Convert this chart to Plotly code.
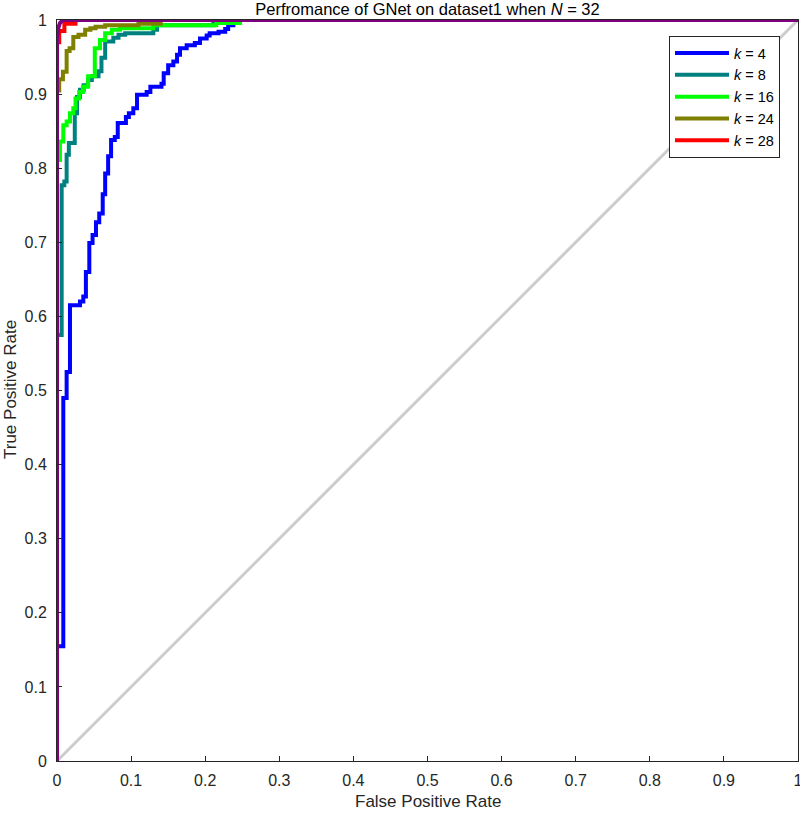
import plotly.graph_objects as go

# ROC staircase vertices (FPR, TPR); drawn with 'hv' steps
k4_fpr = [0, 0, 0.0085, 0.013, 0.0175, 0.031, 0.0355, 0.039, 0.0436, 0.048, 0.0526, 0.057, 0.0617,
          0.065, 0.069, 0.073, 0.078, 0.082, 0.093, 0.097, 0.103, 0.108, 0.121, 0.126, 0.141, 0.144,
          0.150, 0.157, 0.162, 0.166, 0.175, 0.186, 0.193, 0.202, 0.206, 0.218, 0.227, 0.231, 0.238,
          0.247, 1.0]
k4_tpr = [0, 0.155, 0.49, 0.525, 0.615, 0.62, 0.627, 0.66, 0.699, 0.71, 0.727, 0.739, 0.765,
          0.793, 0.816, 0.838, 0.842, 0.861, 0.869, 0.874, 0.881, 0.899, 0.903, 0.910, 0.914, 0.928,
          0.939, 0.944, 0.953, 0.962, 0.966, 0.969, 0.975, 0.979, 0.982, 0.984, 0.988, 0.993, 0.996,
          1.0, 1.0]

k8_fpr = [0, 0, 0.0063, 0.0099, 0.013, 0.016, 0.024, 0.027, 0.031, 0.036, 0.042, 0.047, 0.056,
          0.060, 0.065, 0.076, 0.083, 0.092, 0.130, 0.135, 0.211, 1.0]
k8_tpr = [0, 0.575, 0.777, 0.782, 0.818, 0.834, 0.874, 0.896, 0.906, 0.912, 0.919, 0.924, 0.931,
          0.949, 0.971, 0.976, 0.980, 0.982, 0.987, 0.993, 1.0, 1.0]

k16_fpr = [0, 0, 0.004, 0.0085, 0.013, 0.0175, 0.022, 0.025, 0.030, 0.035, 0.042, 0.051, 0.058,
           0.065, 0.074, 0.085, 0.130, 0.215, 0.247, 1.0]
k16_tpr = [0, 0.811, 0.836, 0.858, 0.863, 0.874, 0.881, 0.894, 0.903, 0.910, 0.924, 0.962, 0.973,
           0.982, 0.987, 0.989, 0.993, 0.996, 1.0, 1.0]

k24_fpr = [0, 0, 0.003, 0.008, 0.013, 0.017, 0.022, 0.029, 0.038, 0.045, 0.052, 0.065, 0.11, 0.14, 1.0]
k24_tpr = [0, 0.905, 0.92, 0.93, 0.958, 0.962, 0.977, 0.980, 0.987, 0.989, 0.991, 0.993, 0.995, 1.0, 1.0]

k28_fpr = [0, 0, 0.003, 0.010, 0.025, 1.0]
k28_tpr = [0, 0.97, 0.985, 0.995, 1.0, 1.0]

k32_fpr = [0, 0, 0.002, 0.004, 0.008, 1.0]
k32_tpr = [0, 0.975, 0.99, 0.996, 1.0, 1.0]

chance = [0, 1]
ticks = [0, 0.1, 0.2, 0.3, 0.4, 0.5, 0.6, 0.7, 0.8, 0.9, 1]
tick_text = ["0", "0.1", "0.2", "0.3", "0.4", "0.5", "0.6", "0.7", "0.8", "0.9", "1"]

FONT = "Arial, Liberation Sans, Helvetica, sans-serif"
AX = "#262626"

W, H = 800, 815
L, R, T, B = 57, 2, 20, 54
PW, PH = W - L - R, H - T - B

fig = go.Figure()
fig.add_trace(go.Scatter(x=chance, y=chance, mode="lines", line=dict(color="#CCCCCC", width=3),
                         showlegend=False, hoverinfo="skip"))

series = [
    (k4_fpr, k4_tpr, "#0000FF", "<i>k</i> = 4"),
    (k8_fpr, k8_tpr, "#008080", "<i>k</i> = 8"),
    (k16_fpr, k16_tpr, "#00FF00", "<i>k</i> = 16"),
    (k24_fpr, k24_tpr, "#808000", "<i>k</i> = 24"),
    (k28_fpr, k28_tpr, "#FF0000", "<i>k</i> = 28"),
]
for fx, ty, col, name in series:
    fig.add_trace(go.Scatter(x=fx, y=ty, mode="lines", line=dict(color=col, width=4, shape="hv"),
                             name=name))

fig.add_trace(go.Scatter(x=k32_fpr, y=k32_tpr, mode="lines", line=dict(color="#800080", width=4),
                         showlegend=False, name="k = 32"))

fig.update_layout(
    width=W, height=H,
    margin=dict(l=L, r=R, t=T, b=B, autoexpand=False),
    paper_bgcolor="white", plot_bgcolor="white",
    font=dict(family=FONT, size=16, color=AX),
    title=dict(text="Perfromance of GNet on dataset1 when <i>N</i> = 32",
               x=(L + W - R) / 2 / W, xanchor="center", xref="container",
               y=1 - 9 / H, yanchor="middle", yref="container",
               font=dict(size=16.5, color="black")),
    showlegend=True,
    legend=dict(x=(669 - L) / PW, y=(H - B - 36) / PH, xanchor="left", yanchor="top",
                bgcolor="white", bordercolor=AX, borderwidth=1,
                font=dict(size=14.5, color="black"), itemwidth=54,
                tracegroupgap=0),
    annotations=[
        dict(text="False Positive Rate", xref="paper", yref="paper", x=0.5,
             y=-(801 - (H - B)) / PH, xanchor="center", yanchor="middle", showarrow=False,
             font=dict(size=17, color=AX)),
        dict(text="True Positive Rate", xref="paper", yref="paper", x=-(L - 10) / PW,
             y=((H - B) - 390) / PH, xanchor="center", yanchor="middle", showarrow=False,
             textangle=-90, font=dict(size=17, color=AX)),
    ],
)
fig.update_xaxes(range=[0, 1], tickvals=ticks, ticktext=tick_text, ticks="inside", ticklen=5,
                 tickcolor=AX, showline=True, linecolor=AX, linewidth=1, mirror=True,
                 showgrid=False, zeroline=False, tickfont=dict(size=16, color=AX),
                 automargin=False, ticklabelstandoff=5, ticklabeloverflow="allow")
fig.update_yaxes(range=[0, 1], tickvals=ticks, ticktext=tick_text, ticks="inside", ticklen=5,
                 tickcolor=AX, showline=True, linecolor=AX, linewidth=1, mirror=True,
                 showgrid=False, zeroline=False, tickfont=dict(size=16, color=AX),
                 automargin=False, ticklabelstandoff=6, ticklabeloverflow="allow")

fig.write_html(
    "out.html",
    config={"displayModeBar": False},
    post_script="document.documentElement.style.margin='0';document.body.style.margin='0';"
                "document.body.style.overflow='hidden';",
)
